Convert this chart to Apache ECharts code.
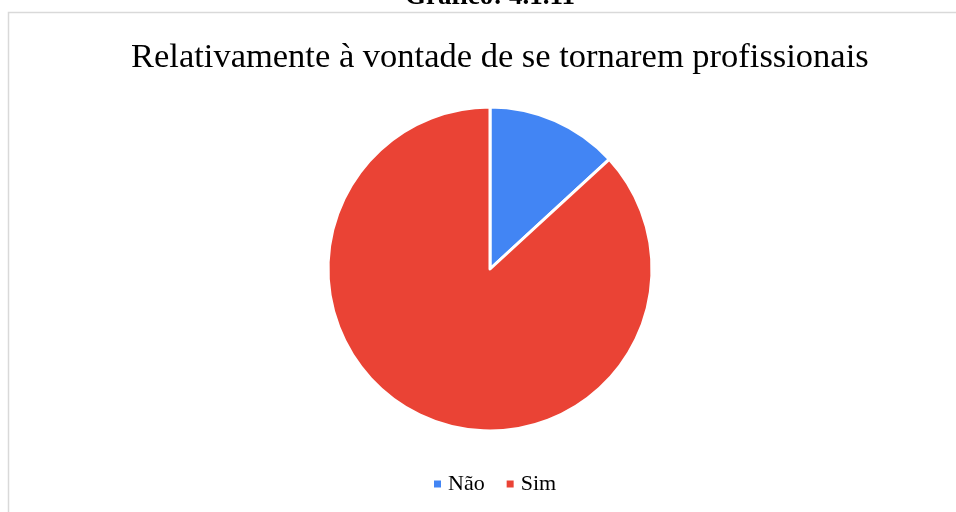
<!DOCTYPE html>
<html><head><meta charset="utf-8">
<script src="https://cdn.jsdelivr.net/npm/echarts@6/dist/echarts.min.js"></script>
<style>html,body{margin:0;padding:0;background:#fff}#c{width:956px;height:512px}</style>
</head><body><div id="c"></div>
<script>
const categories = ["Não", "Sim"];
const values = [5, 33];
const colors = ["#4285F4", "#EA4335"];
const chart = echarts.init(document.getElementById('c'));
chart.setOption({
  animation: false,
  backgroundColor: '#fff',
  color: colors,
  graphic: [
    {type: 'rect', shape: {x: 8.5, y: 12.5, width: 960, height: 520}, style: {fill: 'none', stroke: '#d9d9d9', lineWidth: 1.5}, z: -1},
    {type: 'text', x: 490, y: 11, style: {text: 'Gráfico: 4.1.11', font: 'bold 27px "Liberation Serif"', fill: '#000', align: 'center', verticalAlign: 'bottom'}}
  ],
  title: {
    text: 'Relativamente à vontade de se tornarem profissionais',
    left: 126, top: 35,
    textStyle: {fontFamily: 'Liberation Serif', fontSize: 34.5, fontWeight: 'normal', color: '#000'}
  },
  legend: {
    bottom: 12, left: 427,
    itemWidth: 9, itemHeight: 9, itemGap: 20, icon: 'rect',
    textStyle: {fontFamily: 'Liberation Serif', fontSize: 22, color: '#000', padding: [0,0,0,1]},
    data: categories
  },
  series: [{
    type: 'pie',
    center: [490, 269],
    radius: 162,
    startAngle: 90,
    clockwise: true,
    label: {show: false},
    labelLine: {show: false},
    itemStyle: {borderColor: '#fff', borderWidth: 3},
    emphasis: {disabled: true},
    data: categories.map((c, i) => ({name: c, value: values[i]}))
  }]
});
</script></body></html>
